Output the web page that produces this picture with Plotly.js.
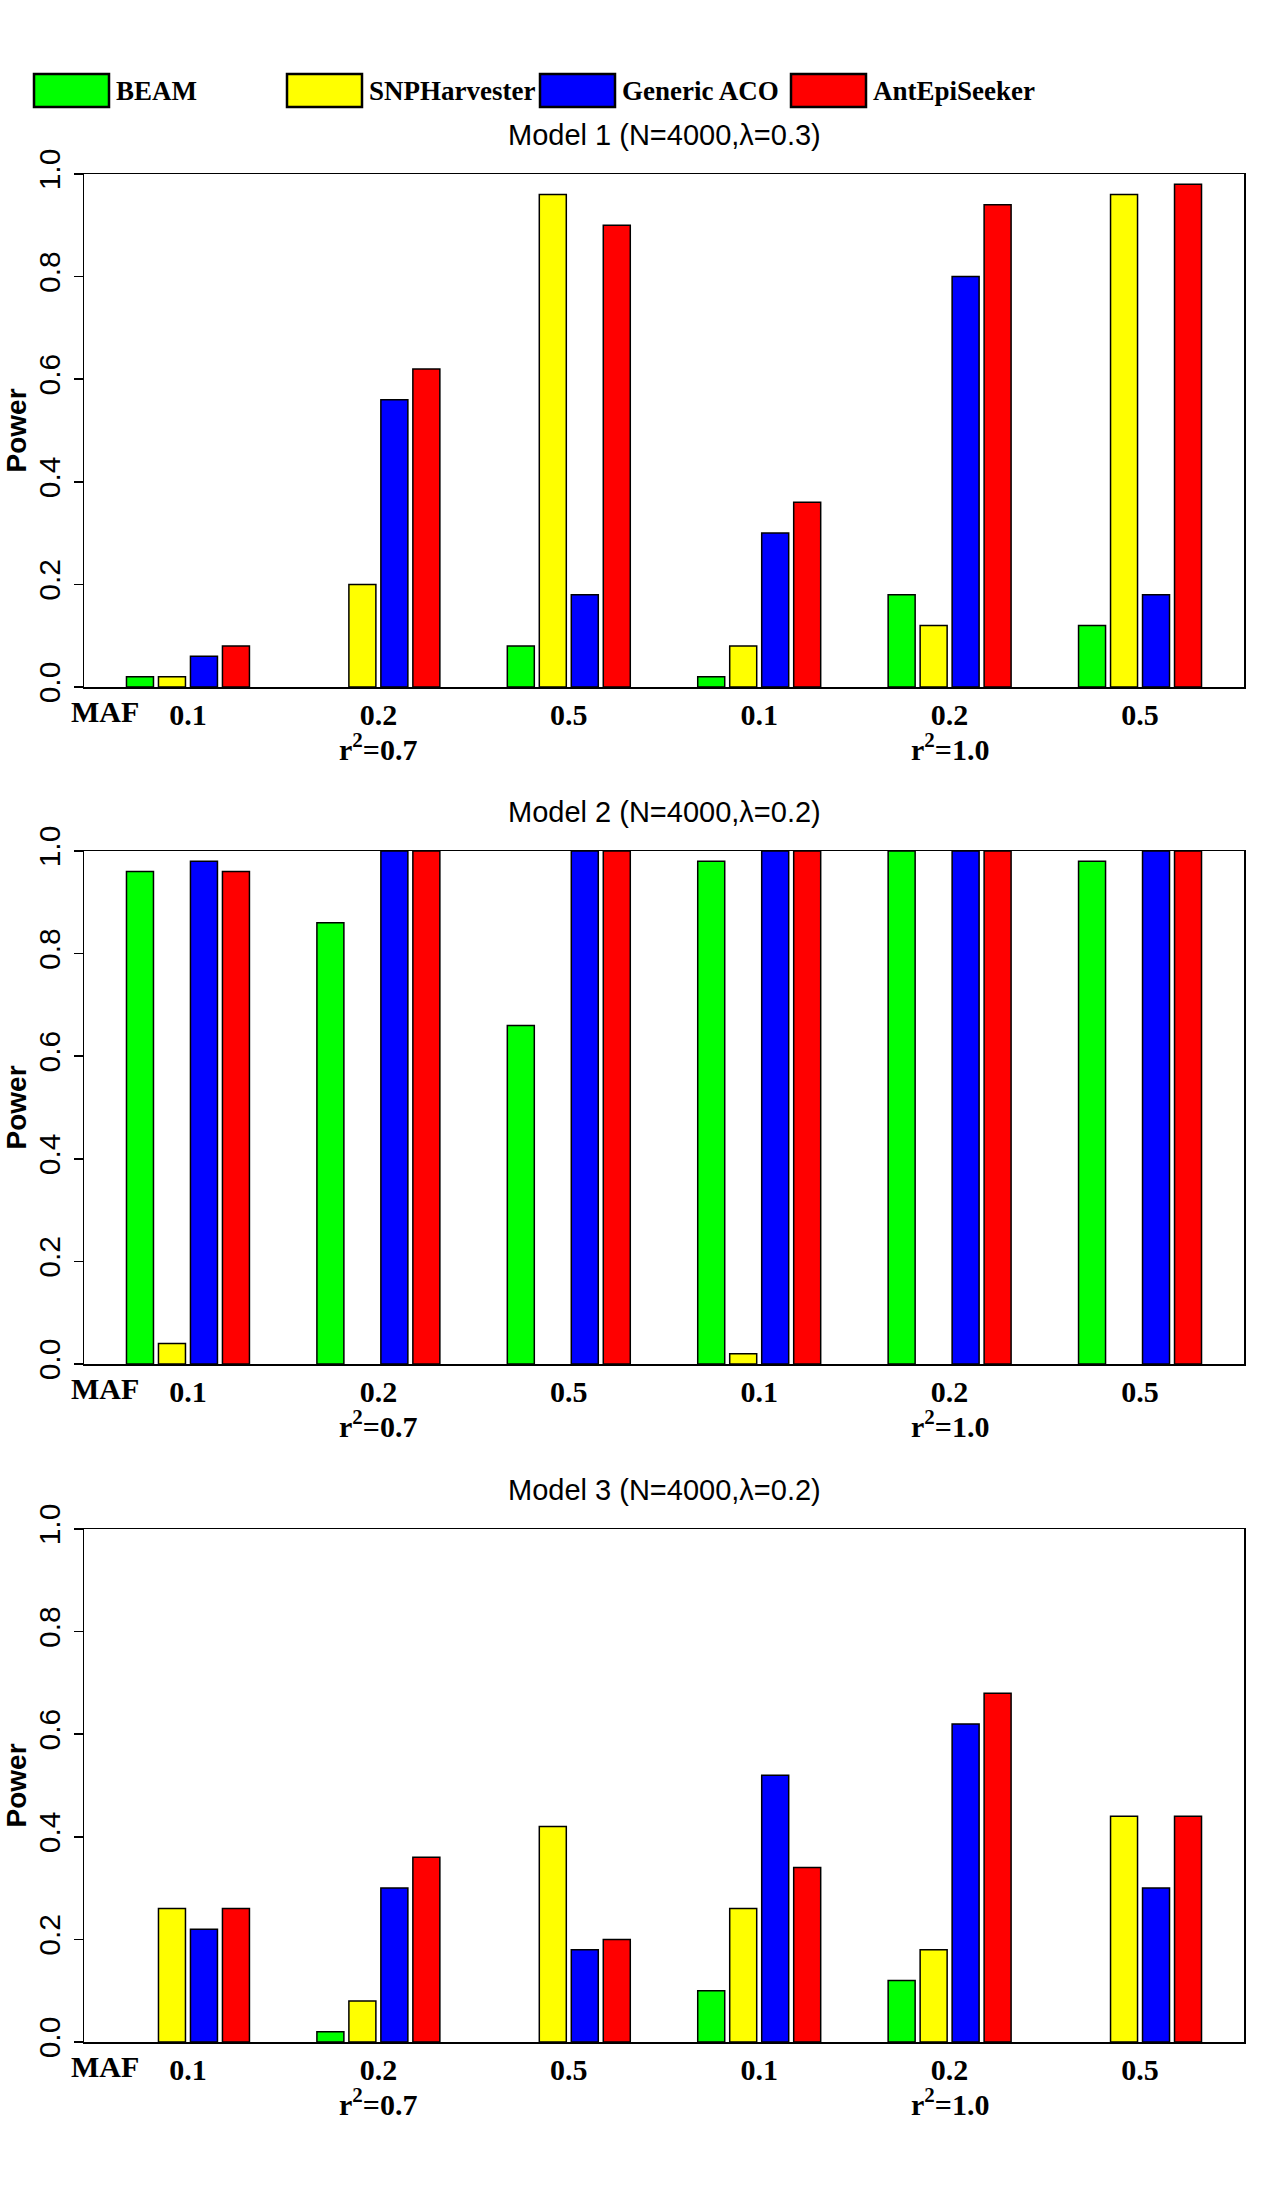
<!DOCTYPE html>
<html>
<head>
<meta charset="utf-8">
<script src="https://cdn.plot.ly/plotly-3.0.1.min.js"></script>
<style>
  body { margin: 0; background: #fff; }
  #chart { width: 1280px; height: 2200px; }
</style>
</head>
<body>
<div id="chart"></div>
<script>
const methods = ["BEAM", "SNPHarvester", "Generic ACO", "AntEpiSeeker"];
const methodColors = ["#00ff00", "#ffff00", "#0000ff", "#ff0000"];
const groupIdx = [0, 1, 2, 3, 4, 5];
const mafLabels = ["0.1", "0.2", "0.5", "0.1", "0.2", "0.5"];
const r2Labels = ["r<sup>2</sup>=0.7", "r<sup>2</sup>=1.0"];
const r2Groups = [1, 4];
const modelTitles = [
  "Model 1 (N=4000,λ=0.3)",
  "Model 2 (N=4000,λ=0.2)",
  "Model 3 (N=4000,λ=0.2)",
];

// power per method (BEAM, SNPHarvester, Generic ACO, AntEpiSeeker)
const model1Power = [
  [0.02, 0, 0.08, 0.02, 0.18, 0.12],
  [0.02, 0.2, 0.96, 0.08, 0.12, 0.96],
  [0.06, 0.56, 0.18, 0.3, 0.8, 0.18],
  [0.08, 0.62, 0.9, 0.36, 0.94, 0.98],
];
const model2Power = [
  [0.96, 0.86, 0.66, 0.98, 1.0, 0.98],
  [0.04, 0, 0, 0.02, 0, 0],
  [0.98, 1.0, 1.0, 1.0, 1.0, 1.0],
  [0.96, 1.0, 1.0, 1.0, 1.0, 1.0],
];
const model3Power = [
  [0, 0.02, 0, 0.1, 0.12, 0],
  [0.26, 0.08, 0.42, 0.26, 0.18, 0.44],
  [0.22, 0.3, 0.18, 0.52, 0.62, 0.3],
  [0.26, 0.36, 0.2, 0.34, 0.68, 0.44],
];
const models = [model1Power, model2Power, model3Power];

const W = 1280, H = 2200;
const px = (v) => v / W;
const py = (v) => 1 - v / H;

// panel geometry in page pixels
const panelTops = [174, 851, 1529];
const panelH = 513;
const plotL = 84, plotR = 1244;

const serif = "Liberation Serif, Times New Roman, serif";
const sans = "Liberation Sans, Arial, sans-serif";

const data = [];
models.forEach((power, p) => {
  const ax = p === 0 ? "" : String(p + 1);
  power.forEach((vals, s) => {
    data.push({
      type: "bar",
      x: groupIdx,
      y: vals,
      name: methods[s],
      xaxis: "x" + ax,
      yaxis: "y" + ax,
      showlegend: false,
      hoverinfo: "skip",
      marker: {
        color: methodColors[s],
        // no outline stub for empty bars
        line: { color: "#000", width: vals.map((v) => (v > 0 ? 1.5 : 0)) },
      },
    });
  });
});

const layout = {
  width: W,
  height: H,
  margin: { l: 0, r: 0, t: 0, b: 0 },
  paper_bgcolor: "#fff",
  plot_bgcolor: "#fff",
  barmode: "group",
  bargap: 0.328,
  bargroupgap: 0.156,
  showlegend: false,
  font: { family: sans, color: "#000" },
  annotations: [],
  shapes: [],
};

panelTops.forEach((top, p) => {
  const ax = p === 0 ? "" : String(p + 1);
  layout["xaxis" + ax] = {
    domain: [px(plotL), px(plotR)],
    anchor: "y" + ax,
    range: [-0.546, 5.546],
    tickvals: groupIdx,
    ticktext: mafLabels,
    ticks: "",
    ticklabelstandoff: 0,
    tickfont: { family: serif, size: 30, weight: "bold", color: "#000" },
    showgrid: false,
    zeroline: false,
    showline: true,
    mirror: true,
    linecolor: "#000",
    linewidth: 1.5,
    fixedrange: true,
  };
  layout["yaxis" + ax] = {
    domain: [py(top + panelH), py(top)],
    anchor: "x" + ax,
    range: [0, 1],
    tickvals: [0, 0.2, 0.4, 0.6, 0.8, 1.0],
    tickformat: ".1f",
    tickangle: -90,
    ticks: "outside",
    ticklen: 9,
    tickwidth: 1.5,
    tickcolor: "#000",
    ticklabelstandoff: 2,
    tickfont: { family: sans, size: 30, color: "#000" },
    showgrid: false,
    zeroline: false,
    showline: true,
    mirror: true,
    linecolor: "#000",
    linewidth: 1.5,
    fixedrange: true,
  };

  // panel title
  layout.annotations.push({
    xref: "paper", yref: "paper",
    x: px((plotL + plotR) / 2), y: py(top - 39),
    xanchor: "center", yanchor: "middle",
    text: modelTitles[p],
    showarrow: false,
    font: { family: sans, size: 29, color: "#000" },
  });
  // y title
  layout.annotations.push({
    xref: "paper", yref: "paper",
    x: px(16), y: py(top + panelH / 2),
    xanchor: "center", yanchor: "middle",
    textangle: -90,
    text: "Power",
    showarrow: false,
    font: { family: sans, size: 28, weight: "bold", color: "#000" },
  });
  // MAF label
  layout.annotations.push({
    xref: "paper", yref: "paper",
    x: px(105), y: py(top + panelH + 24),
    xanchor: "center", yanchor: "middle",
    text: "MAF",
    showarrow: false,
    font: { family: serif, size: 30, weight: "bold", color: "#000" },
  });
  // r^2 group labels
  r2Labels.forEach((lab, i) => {
    layout.annotations.push({
      xref: "x" + ax, yref: "paper",
      x: r2Groups[i], y: py(top + panelH + 60),
      xanchor: "center", yanchor: "middle",
      text: lab,
      showarrow: false,
      font: { family: serif, size: 30, weight: "bold", color: "#000" },
    });
  });
});

// legend row drawn as boxes + labels
const legendBoxX = [34, 287, 540, 791];
methods.forEach((m, i) => {
  layout.shapes.push({
    type: "rect",
    xref: "paper", yref: "paper",
    x0: px(legendBoxX[i]), x1: px(legendBoxX[i] + 75),
    y0: py(107), y1: py(74),
    fillcolor: methodColors[i],
    line: { color: "#000", width: 2.5 },
  });
  layout.annotations.push({
    xref: "paper", yref: "paper",
    x: px(legendBoxX[i] + 80), y: py(91),
    xanchor: "left", yanchor: "middle",
    text: m,
    showarrow: false,
    font: { family: serif, size: 27, weight: "bold", color: "#000" },
  });
});

Plotly.newPlot("chart", data, layout, { staticPlot: true });
</script>
</body>
</html>
